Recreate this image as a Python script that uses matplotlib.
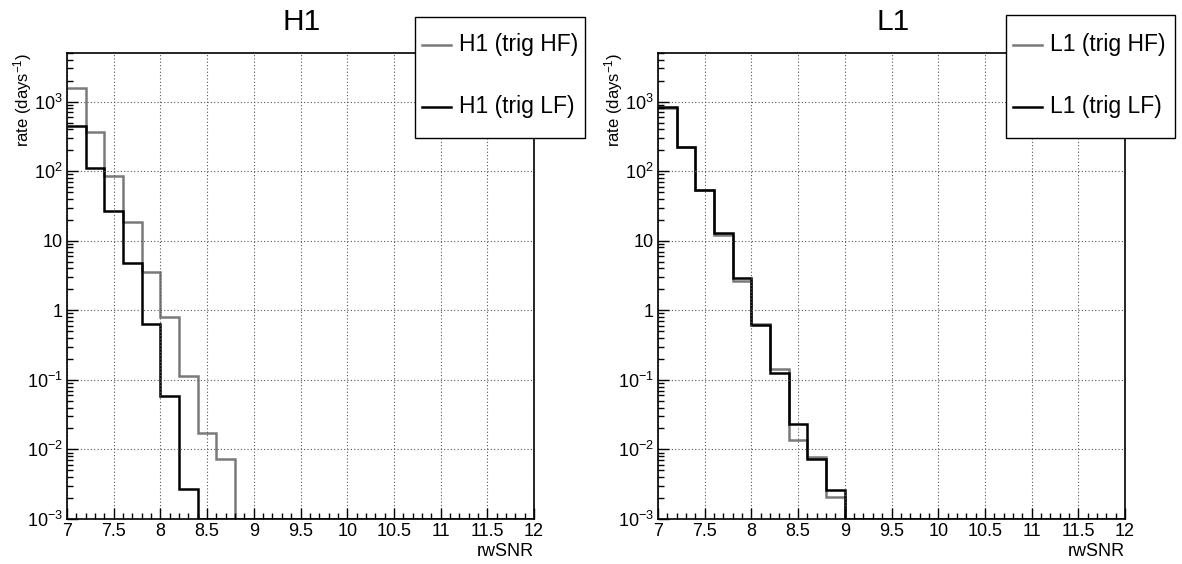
import numpy as np
import matplotlib.pyplot as plt
from matplotlib.lines import Line2D
from matplotlib.patches import Rectangle
from matplotlib.ticker import FixedLocator, FuncFormatter, LogLocator, MultipleLocator

plt.rcParams['font.family'] = ['Liberation Sans', 'DejaVu Sans']
plt.rcParams['mathtext.fontset'] = 'custom'
plt.rcParams['mathtext.rm'] = 'Liberation Sans'
plt.rcParams['mathtext.it'] = 'Liberation Sans'

# bin edges 7..12, width 0.2
edges = np.round(np.arange(7.0, 12.01, 0.2), 2)
n_bins = len(edges) - 1


def pad(vals):
    out = np.zeros(n_bins)
    out[:len(vals)] = vals
    return out


h1_hf = pad([1580, 365, 85, 18.5, 3.6, 0.80, 0.115, 0.0175, 0.0073])
h1_lf = pad([440, 112, 27, 4.8, 0.64, 0.059, 0.0027])
l1_hf = pad([820, 220, 54, 12.0, 2.6, 0.63, 0.145, 0.0138, 0.0078, 0.0021])
l1_lf = pad([830, 222, 54, 13.0, 2.9, 0.62, 0.125, 0.0235, 0.0072, 0.0026])

panels = [
    ("H1", h1_hf, h1_lf, "H1 (trig HF)", "H1 (trig LF)"),
    ("L1", l1_hf, l1_lf, "L1 (trig HF)", "L1 (trig LF)"),
]

W, H = 1182, 564
fig = plt.figure(figsize=(W / 100, H / 100), dpi=100)

ymin, ymax = 1e-3, 5e3
gray = '#7a7a7a'


def fx(px):
    return px / W


def fy(py):
    return 1 - py / H


def ylab(v, pos):
    e = int(round(np.log10(v)))
    if e == 0:
        return '1'
    if e == 1:
        return '10'
    return r'$10^{%d}$' % e


for i, (title, hf, lf, lab_hf, lab_lf) in enumerate(panels):
    off = i * 591
    ax = fig.add_axes([fx(67 + off), fy(519), 467 / W, (519 - 53) / H])

    # empty bins drawn on the floor, as ROOT does on a log scale
    ax.stairs(np.where(hf > 0, hf, ymin), edges, color=gray, lw=1.8, baseline=None)
    ax.stairs(np.where(lf > 0, lf, ymin), edges, color='black', lw=1.8, baseline=None)

    ax.set_yscale('log')
    ax.set_xlim(7, 12)
    ax.set_ylim(ymin, ymax)

    ax.xaxis.set_major_locator(MultipleLocator(0.5))
    ax.xaxis.set_minor_locator(MultipleLocator(0.1))
    ax.xaxis.set_major_formatter(FuncFormatter(lambda v, p: '%g' % v))
    ax.yaxis.set_major_locator(FixedLocator([10.0 ** k for k in range(-3, 4)]))
    ax.yaxis.set_minor_locator(LogLocator(base=10, subs=np.arange(2, 10), numticks=20))
    ax.yaxis.set_major_formatter(FuncFormatter(ylab))

    ax.tick_params(which='both', direction='in', top=False, right=False,
                   labelsize=13, width=1, pad=3)
    ax.tick_params(which='major', length=8)
    ax.tick_params(which='minor', length=4)
    ax.tick_params(axis='y', which='minor', labelleft=False)
    ax.grid(True, which='major', ls=(0, (1, 2)), color='#555555', lw=0.8)
    for s in ax.spines.values():
        s.set_linewidth(1.2)

    ax.set_xlabel('rwSNR', loc='right', fontsize=13, labelpad=2)
    ax.set_ylabel(r'rate (days$^{-1}$)', loc='top', fontsize=12)
    ax.yaxis.set_label_coords(-33 / 467, 1.0)

    fig.text(fx(302 + off), fy(22), title, fontsize=21.5, ha='center', va='center')

    # legend box, ROOT TLegend style
    lx0, lx1 = (415, 585) if i == 0 else (1006, 1175)
    top = 17 if i == 0 else 15
    fig.add_artist(Rectangle((fx(lx0), fy(138)), fx(lx1) - fx(lx0), fy(top) - fy(138),
                             transform=fig.transFigure, facecolor='white',
                             edgecolor='black', lw=1.0, zorder=5))
    for yy, col, lab in [(45, gray, lab_hf), (107, 'black', lab_lf)]:
        fig.add_artist(Line2D([fx(lx0 + 7), fx(lx0 + 36)], [fy(yy), fy(yy)],
                              transform=fig.transFigure, color=col, lw=1.8, zorder=6))
        fig.text(fx(lx0 + 44), fy(yy), lab, fontsize=16.5, ha='left', va='center',
                 zorder=6)

fig.savefig('out.png', dpi=100)
